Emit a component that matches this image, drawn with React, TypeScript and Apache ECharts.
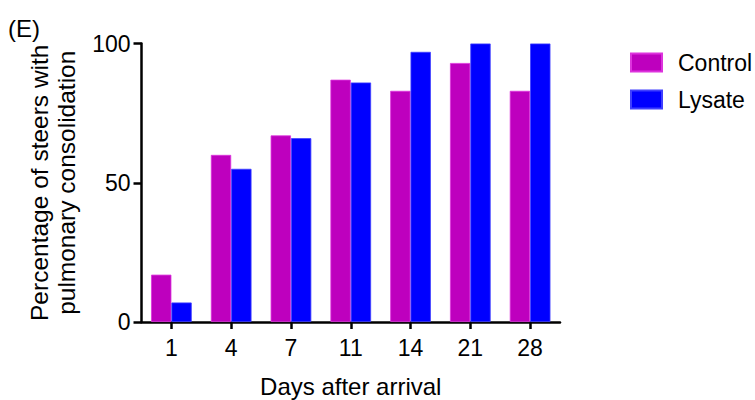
import React, { useEffect, useRef } from "react";
import * as echarts from "echarts";

// Days after arrival (category axis)
const days = ["1", "4", "7", "11", "14", "21", "28"];
// Percentage of steers with pulmonary consolidation
const control = [17, 60, 67, 87, 83, 93, 83];
const lysate = [7, 55, 66, 86, 97, 100, 100];
// Y-axis ticks
const yTicks = [0, 50, 100];

const FONT = "'Liberation Sans', Arial, Helvetica, sans-serif";

export default function App() {
  const ref = useRef<HTMLDivElement>(null);

  useEffect(() => {
    if (!ref.current) return;
    const chart = echarts.init(ref.current, undefined, { renderer: "svg" });
    chart.setOption({
      animation: false,
      backgroundColor: "#ffffff",
      textStyle: { fontFamily: FONT, color: "#000" },
      grid: {
        left: 141.5,
        right: 195,
        top: 43.5,
        bottom: 78,
        containLabel: false,
        outerBoundsMode: "none",
      },
      legend: {
        orient: "vertical",
        left: 630,
        top: 51,
        padding: 0,
        itemWidth: 31,
        itemHeight: 18,
        itemGap: 14,
        icon: "rect",
        textStyle: { fontFamily: FONT, fontSize: 23, color: "#000", padding: [0, 0, 0, 11] },
        data: ["Control", "Lysate"],
      },
      graphic: [
        {
          type: "text",
          left: 8,
          top: 16,
          style: { text: "(E)", font: `24px ${FONT}`, fill: "#000" },
        },
      ],
      xAxis: {
        type: "category",
        data: days,
        name: "Days after arrival",
        nameLocation: "middle",
        nameGap: 52,
        nameTextStyle: { fontFamily: FONT, fontSize: 24, color: "#000" },
        axisLine: { show: true, lineStyle: { color: "#000", width: 2.5 } },
        axisTick: { show: true, alignWithLabel: true, length: 7, lineStyle: { color: "#000", width: 2.5 } },
        axisLabel: { fontFamily: FONT, fontSize: 23, color: "#000", margin: 14 },
      },
      yAxis: {
        type: "value",
        min: yTicks[0],
        max: yTicks[yTicks.length - 1],
        interval: 50,
        name: "Percentage of steers with\npulmonary consolidation",
        nameLocation: "middle",
        nameRotate: 90,
        nameGap: 62,
        nameTextStyle: { fontFamily: FONT, fontSize: 24.5, color: "#000", lineHeight: 27 },
        splitLine: { show: false },
        axisLine: { show: true, lineStyle: { color: "#000", width: 2.5 } },
        axisTick: { show: true, length: 8, lineStyle: { color: "#000", width: 2.5 } },
        axisLabel: { fontFamily: FONT, fontSize: 23, color: "#000", margin: 11 },
      },
      series: [
        {
          name: "Control",
          type: "bar",
          data: control,
          barGap: "0%",
          barCategoryGap: "32%",
          itemStyle: { color: "#BE00BE", borderColor: "#DD33DD", borderWidth: 0.8 },
        },
        {
          name: "Lysate",
          type: "bar",
          data: lysate,
          barGap: "0%",
          barCategoryGap: "32%",
          itemStyle: { color: "#0000FF", borderColor: "#3F3FFF", borderWidth: 0.8 },
        },
      ],
    });
    return () => chart.dispose();
  }, []);

  return (
    <div
      ref={ref}
      style={{ position: "absolute", left: 0, top: 0, width: 755, height: 400 }}
    />
  );
}
